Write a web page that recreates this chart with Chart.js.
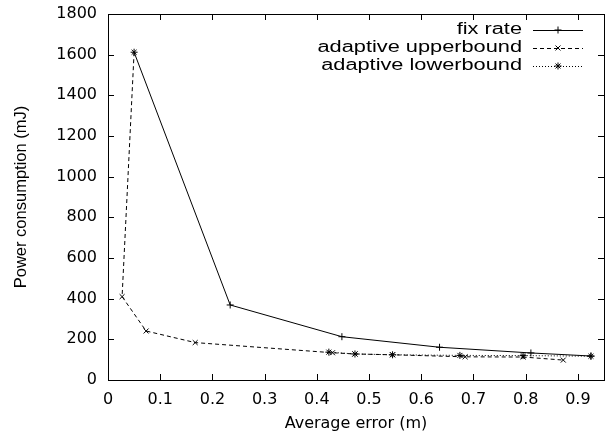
<!DOCTYPE html>
<html>
<head>
<meta charset="utf-8">
<script src="https://cdn.jsdelivr.net/npm/chart.js@4/dist/chart.umd.min.js"></script>
<style>
  html, body { margin: 0; padding: 0; background: #fff; }
  #wrap { width: 610px; height: 438px; }
</style>
</head>
<body>
<div id="wrap"><canvas id="chart" width="610" height="438"></canvas></div>
<script>
// values
const fixRateX = [0.05, 0.234, 0.448, 0.635, 0.81, 0.925];
const fixRateY = [1612, 369, 213, 161, 133, 118];
const upperX = [0.05, 0.027, 0.073, 0.167, 0.43, 0.473, 0.545, 0.684, 0.795, 0.872];
const upperY = [1612, 410, 241, 184, 134, 128, 124, 114, 113, 98];
const lowerX = [0.423, 0.473, 0.545, 0.674, 0.795, 0.925];
const lowerY = [137, 128, 124, 121, 120, 117];
const xTicks = [0, 0.1, 0.2, 0.3, 0.4, 0.5, 0.6, 0.7, 0.8, 0.9];
const yTicks = [0, 200, 400, 600, 800, 1000, 1200, 1400, 1600, 1800];

const pts = (xs, ys) => xs.map((x, i) => ({ x: x, y: ys[i] }));
const SANS = '"Liberation Sans", Arial, sans-serif';
const WIDE = '"DejaVu Sans", sans-serif';

// gnuplot-like inward ticks on all four sides
const innerTicks = {
  id: 'innerTicks',
  afterDraw(chart) {
    const { ctx, chartArea: a, scales: { x, y } } = chart;
    ctx.save();
    ctx.strokeStyle = '#000';
    ctx.lineWidth = 1;
    ctx.beginPath();
    xTicks.forEach(v => {
      const px = Math.round(x.getPixelForValue(v)) + 0.5;
      ctx.moveTo(px, a.bottom); ctx.lineTo(px, a.bottom - 6);
      ctx.moveTo(px, a.top); ctx.lineTo(px, a.top + 6);
    });
    yTicks.forEach(v => {
      const py = Math.round(y.getPixelForValue(v)) + 0.5;
      ctx.moveTo(a.left, py); ctx.lineTo(a.left + 6, py);
      ctx.moveTo(a.right, py); ctx.lineTo(a.right - 6, py);
    });
    ctx.stroke();
    ctx.strokeRect(Math.round(a.left) + 0.5, Math.round(a.top) + 0.5,
      Math.round(a.right - a.left), Math.round(a.bottom - a.top));
    ctx.restore();
  }
};

// legend in the top right corner: label, then line sample with marker
const keyBox = {
  id: 'keyBox',
  afterDraw(chart) {
    const { ctx, chartArea: a } = chart;
    ctx.save();
    chart.data.datasets.forEach((ds, i) => {
      const yy = a.top + 16 + i * 18;
      // the reference text is wider than it is tall
      ctx.save();
      ctx.translate(a.right - 82, yy);
      ctx.scale(1.36, 1);
      ctx.font = '16px ' + SANS;
      ctx.textAlign = 'right';
      ctx.textBaseline = 'middle';
      ctx.fillStyle = '#000';
      ctx.fillText(ds.label, 0, 0);
      ctx.restore();
      ctx.strokeStyle = '#000';
      ctx.lineWidth = 1;
      ctx.setLineDash(ds.borderDash || []);
      ctx.beginPath();
      ctx.moveTo(a.right - 71, yy + 0.5);
      ctx.lineTo(a.right - 21, yy + 0.5);
      ctx.stroke();
      ctx.setLineDash([]);
      Chart.helpers.drawPoint(ctx, {
        pointStyle: ds.pointStyle, radius: ds.pointRadius, rotation: 0,
        borderWidth: 1
      }, a.right - 46, yy);
    });
    ctx.restore();
  }
};

const base = { showLine: true, fill: false, borderColor: '#000', backgroundColor: '#000',
  borderWidth: 1, pointBorderWidth: 1, pointBorderColor: '#000', tension: 0 };

new Chart(document.getElementById('chart'), {
  type: 'scatter',
  data: {
    datasets: [
      Object.assign({}, base, { label: 'fix rate', data: pts(fixRateX, fixRateY),
        pointStyle: 'cross', pointRadius: 3.5 }),
      Object.assign({}, base, { label: 'adaptive upperbound', data: pts(upperX, upperY),
        pointStyle: 'crossRot', pointRadius: 3.5, borderDash: [4, 3] }),
      Object.assign({}, base, { label: 'adaptive lowerbound', data: pts(lowerX, lowerY),
        pointStyle: 'star', pointRadius: 3.5, borderDash: [1, 2] })
    ]
  },
  options: {
    responsive: false,
    animation: false,
    layout: { padding: { top: 14, right: 6, left: 0, bottom: 0 } },
    plugins: { legend: { display: false }, tooltip: { enabled: false } },
    scales: {
      x: {
        type: 'linear', min: 0, max: 0.95,
        afterBuildTicks: s => { s.ticks = xTicks.map(v => ({ value: v })); },
        afterFit: s => { s.height = 58; s.paddingLeft = 0; s.paddingRight = 0; },
        grid: { display: false, drawTicks: false },
        border: { display: false },
        ticks: { color: '#000', font: { family: WIDE, size: 16 }, padding: 10,
          maxRotation: 0, autoSkip: false, callback: v => String(v) },
        title: { display: true, text: 'Average error (m)', color: '#000',
          font: { family: WIDE, size: 16 }, padding: { top: 0, bottom: 5 } }
      },
      y: {
        type: 'linear', min: 0, max: 1800,
        afterBuildTicks: s => { s.ticks = yTicks.map(v => ({ value: v })); },
        afterFit: s => { s.width = 108; s.paddingTop = 0; s.paddingBottom = 0; },
        grid: { display: false, drawTicks: false },
        border: { display: false },
        ticks: { color: '#000', font: { family: WIDE, size: 16 }, padding: 11,
          autoSkip: false, callback: v => String(v) },
        title: { display: true, text: 'Power consumption (mJ)', color: '#000',
          font: { family: SANS, size: 16.5 }, padding: { top: 12, bottom: 0 } }
      }
    }
  },
  plugins: [innerTicks, keyBox]
});
</script>
</body>
</html>
